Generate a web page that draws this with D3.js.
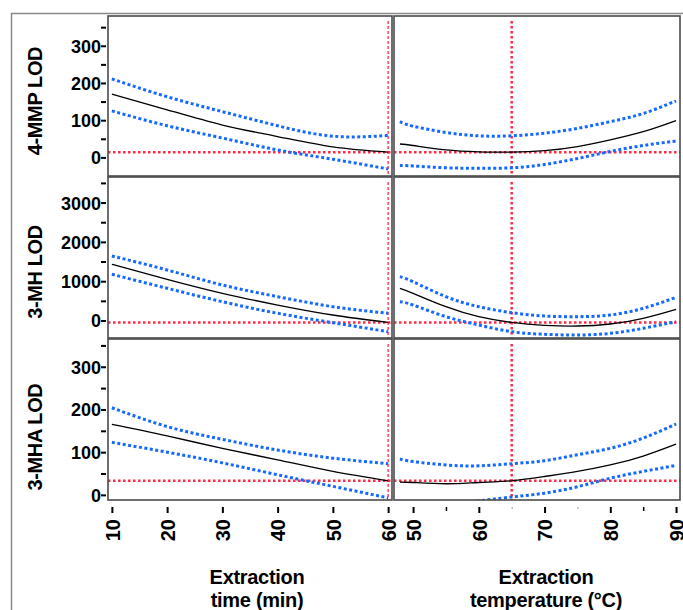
<!DOCTYPE html>
<html>
<head>
<meta charset="utf-8">
<script src="https://cdn.jsdelivr.net/npm/d3@7"></script>
<style>
  body { margin: 0; background: #fff; }
  svg { display: block; font-family: 'Liberation Sans', Arial, sans-serif; }
  .tick text { font-weight: bold; fill: #000; }
</style>
</head>
<body>
<div id="vis"></div>
<script>
// x values the curves were read at
var timeX = [10, 20, 30, 40, 50, 60];
var tempX = [48, 50, 55, 60, 65, 70, 75, 80, 85, 90];

// 4-MMP LOD
var mmpTimeMean  = [170, 128, 87, 56, 28, 14];
var mmpTimeUpper = [211, 163, 123, 85, 57, 59];
var mmpTimeLower = [125, 85, 52, 20, -5, -31];
var mmpTempMean  = [36, 32, 20, 15, 14, 18, 29, 47, 69, 99];
var mmpTempUpper = [96, 84, 67, 58, 58, 65, 78, 96, 118, 152];
var mmpTempLower = [-22, -23, -28, -29, -28, -19, -3, 16, 32, 44];

// 3-MH LOD
var mhTimeMean  = [1430, 1048, 692, 394, 140, -50];
var mhTimeUpper = [1641, 1285, 903, 606, 351, 183];
var mhTimeLower = [1175, 819, 478, 183, -56, -285];
var mhTempMean  = [819, 692, 351, 97, -50, -122, -140, -89, 56, 285];
var mhTempUpper = [1115, 987, 606, 351, 199, 115, 97, 140, 310, 590];
var mhTempLower = [478, 394, 97, -115, -285, -351, -369, -327, -199, -30];

// 3-MHA LOD
var mhaTimeMean  = [165, 138, 109, 82, 55, 33];
var mhaTimeUpper = [204, 160, 130, 105, 86, 73];
var mhaTimeLower = [123, 100, 75, 47, 20, -7];
var mhaTempMean  = [30, 29, 26, 29, 33, 43, 55, 70, 91, 119];
var mhaTempUpper = [84, 78, 70, 68, 73, 80, 94, 109, 133, 166];
var mhaTempLower = [-30, -28, -22, -14, -5, 4, 19, 39, 55, 69];

var rowNames = ['4-MMP LOD', '3-MH LOD', '3-MHA LOD'];
var refValues = [14, -50, 33];
var refTime = 60;
var refTemp = 65;
var yDomains = [[-50, 380], [-445, 3650], [-12, 365]];
var yMajor = [[0, 100, 200, 300], [0, 1000, 2000, 3000], [0, 100, 200, 300]];
var yMinor = [[50, 150, 250, 350], [500, 1500, 2500, 3500], [50, 150, 250, 350]];
var timeTicks = [10, 20, 30, 40, 50, 60];
var tempTicks = [50, 60, 70, 80, 90];
var tempMinor = [55, 85];
var tempTiny = [65, 75];

var rows = [
  { time: [mmpTimeMean, mmpTimeUpper, mmpTimeLower], temp: [mmpTempMean, mmpTempUpper, mmpTempLower] },
  { time: [mhTimeMean, mhTimeUpper, mhTimeLower], temp: [mhTempMean, mhTempUpper, mhTempLower] },
  { time: [mhaTimeMean, mhaTimeUpper, mhaTimeLower], temp: [mhaTempMean, mhaTempUpper, mhaTempLower] }
];

var width = 683, height = 610;
var rowTops = [16, 177, 339];
var rowBottoms = [176, 338, 500];
var titleY = [101, 272, 437];

var xTime = d3.scaleLinear().domain([9.3, 60.7]).range([108, 392]);
var xTemp = d3.scaleLinear().domain([47.1, 90.6]).range([394, 680]);

var svg = d3.select('#vis').append('svg')
  .attr('width', width)
  .attr('height', height);

// outer frame
svg.append('rect')
  .attr('x', 11.5).attr('y', 13.5)
  .attr('width', 690).attr('height', 620)
  .attr('fill', 'none')
  .attr('stroke', '#8a8a8a')
  .attr('stroke-width', 1.5);

var blue = '#1469ff';
var red = '#ff2a45';

function drawPanel(i, xs, xScale, vals, refX, clipId, thinVertical) {
  var y = d3.scaleLinear().domain(yDomains[i]).range([rowBottoms[i], rowTops[i]]);
  var x0 = xScale.range()[0], x1 = xScale.range()[1];

  svg.append('clipPath').attr('id', clipId)
    .append('rect')
    .attr('x', x0).attr('y', rowTops[i])
    .attr('width', x1 - x0).attr('height', rowBottoms[i] - rowTops[i]);

  var g = svg.append('g').attr('clip-path', 'url(#' + clipId + ')');

  // reference lines
  g.append('line')
    .attr('x1', x0).attr('x2', x1)
    .attr('y1', y(refValues[i])).attr('y2', y(refValues[i]))
    .attr('stroke', red).attr('stroke-width', 2.5)
    .attr('stroke-dasharray', '2.5,2.5');
  g.append('line')
    .attr('x1', xScale(refX)).attr('x2', xScale(refX))
    .attr('y1', rowTops[i] + 5).attr('y2', rowBottoms[i])
    .attr('stroke', red).attr('stroke-width', thinVertical ? 1.3 : 2.5)
    .attr('stroke-dasharray', thinVertical ? '3,2' : '2.5,2.5');

  var line = d3.line()
    .x(function (d) { return xScale(d[0]); })
    .y(function (d) { return y(d[1]); })
    .curve(d3.curveNatural);

  vals.forEach(function (series, k) {
    var pts = xs.map(function (xv, j) { return [xv, series[j]]; });
    g.append('path')
      .attr('d', line(pts))
      .attr('fill', 'none')
      .attr('stroke', k === 0 ? '#000' : blue)
      .attr('stroke-width', k === 0 ? 1.3 : 3)
      .attr('stroke-dasharray', k === 0 ? null : '3,2.5');
  });

  svg.append('rect')
    .attr('x', x0).attr('y', rowTops[i])
    .attr('width', x1 - x0).attr('height', rowBottoms[i] - rowTops[i])
    .attr('fill', 'none')
    .attr('stroke', '#4a4a4a')
    .attr('stroke-width', 1.6);

  return y;
}

rows.forEach(function (r, i) {
  var y = drawPanel(i, timeX, xTime, r.time, refTime, 'clipA' + i, true);
  drawPanel(i, tempX, xTemp, r.temp, refTemp, 'clipB' + i, false);

  // y axis, minor then major
  svg.append('g')
    .attr('transform', 'translate(106,0)')
    .call(d3.axisLeft(y).tickValues(yMinor[i]).tickSize(5).tickFormat(''))
    .call(function (g) { g.select('.domain').remove(); })
    .selectAll('line').attr('stroke', '#000').attr('stroke-width', 2);

  var ya = svg.append('g')
    .attr('transform', 'translate(106,0)')
    .call(d3.axisLeft(y).tickValues(yMajor[i]).tickSize(5).tickPadding(0).tickFormat(d3.format('d')))
    .call(function (g) { g.select('.domain').remove(); });
  ya.selectAll('line').attr('stroke', '#000').attr('stroke-width', 2);
  ya.selectAll('text').style('font-size', '18px').attr('dy', '0.36em');

  svg.append('text')
    .attr('transform', 'translate(42,' + titleY[i] + ') rotate(-90)')
    .attr('text-anchor', 'middle')
    .style('font-size', '20px')
    .style('font-weight', 'bold')
    .style('letter-spacing', '-0.4px')
    .text(rowNames[i]);
});

// x axes
function styleX(g, offset) {
  g.select('.domain').remove();
  g.selectAll('line').attr('stroke', '#000').attr('stroke-width', 2);
  g.selectAll('text')
    .attr('transform', 'rotate(-90)')
    .attr('text-anchor', 'end')
    .attr('x', -offset)
    .attr('y', 0)
    .attr('dy', '0.36em')
    .style('font-size', '20px');
}

svg.append('g')
  .attr('transform', 'translate(0,507)')
  .call(d3.axisBottom(xTime).tickValues(timeTicks).tickSize(6))
  .call(styleX, 12);

svg.append('g')
  .attr('transform', 'translate(0,507)')
  .call(d3.axisBottom(xTemp).tickValues(tempTicks).tickSize(6))
  .call(styleX, 12);

svg.append('g')
  .attr('transform', 'translate(0,507)')
  .call(d3.axisBottom(xTemp).tickValues(tempMinor).tickSize(4).tickFormat(''))
  .call(function (g) {
    g.select('.domain').remove();
    g.selectAll('line').attr('stroke', '#000').attr('stroke-width', 1.5);
  });

svg.append('g')
  .attr('transform', 'translate(0,507)')
  .call(d3.axisBottom(xTemp).tickValues(tempTiny).tickSize(2).tickFormat(''))
  .call(function (g) {
    g.select('.domain').remove();
    g.selectAll('line').attr('stroke', '#999').attr('stroke-width', 1);
  });

// axis titles
var xTitles = [
  { x: 257, lines: ['Extraction', 'time (min)'] },
  { x: 546, lines: ['Extraction', 'temperature (\u00B0C)'] }
];
xTitles.forEach(function (t) {
  t.lines.forEach(function (s, k) {
    svg.append('text')
      .attr('x', t.x)
      .attr('y', 584 + k * 23)
      .attr('text-anchor', 'middle')
      .style('font-size', '20px')
      .style('font-weight', 'bold')
      .style('letter-spacing', '-0.3px')
      .text(s);
  });
});
</script>
</body>
</html>
